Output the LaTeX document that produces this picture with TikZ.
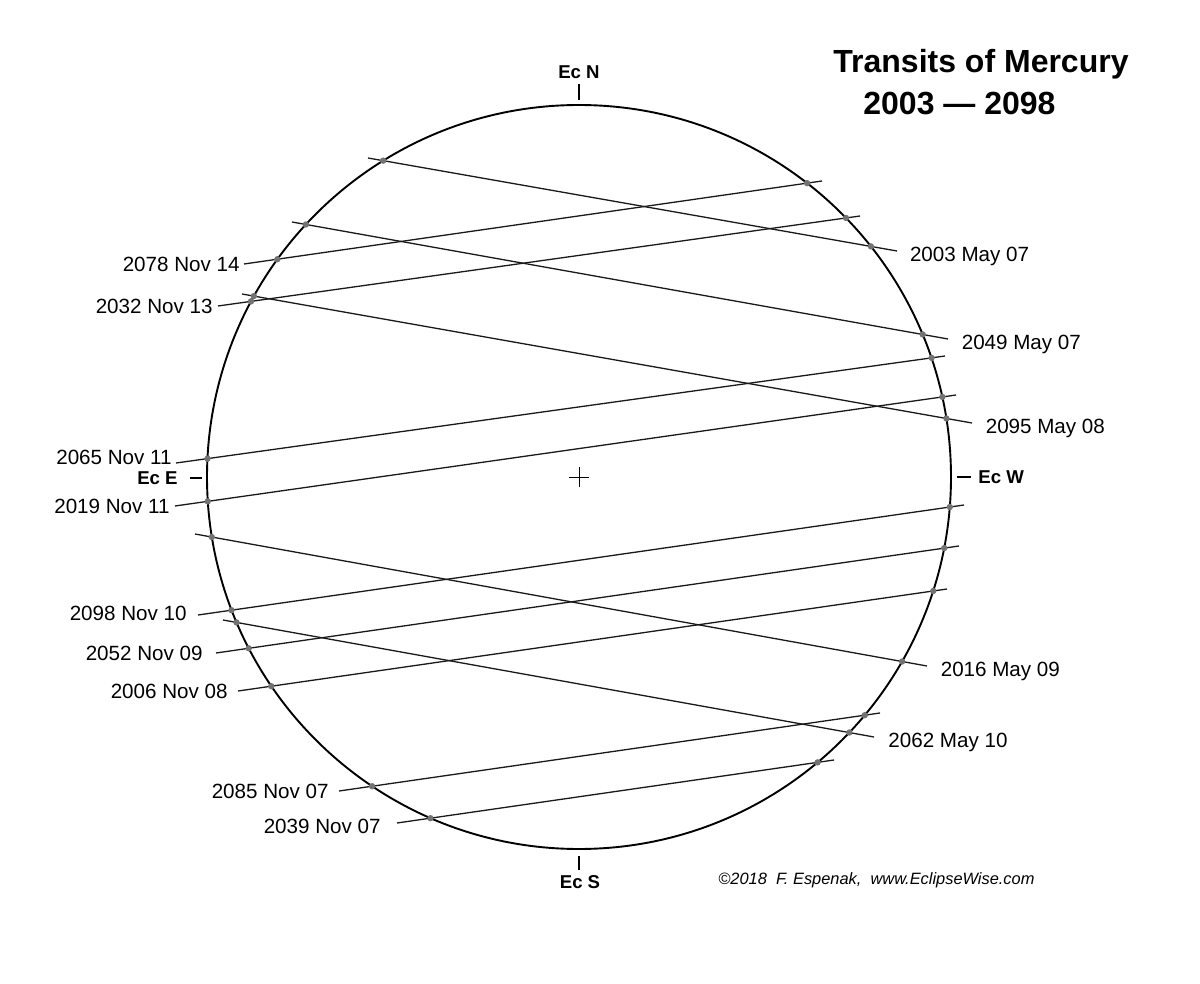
\documentclass[tikz,border=0pt]{standalone}
\usepackage{fontspec}
\setmainfont{Liberation Sans}
\usetikzlibrary{positioning,intersections}

\begin{document}
\begin{tikzpicture}[
    x=0.5pt, y=-0.5pt,
    limb/.style={draw=black, line width=0.95pt},
    chord/.style={draw=black!90, line width=0.65pt},
    contact/.style={fill=black!55},
    tickmark/.style={draw=black, line width=0.6pt},
    date/.style={font=\fontsize{10.3}{12}\selectfont, inner sep=0pt},
    rdate/.style={date, yshift=-2.6pt},
    axis/.style={font=\fontsize{9.3}{11}\selectfont\bfseries, inner sep=0pt},
    heading/.style={font=\fontsize{16}{19}\selectfont\bfseries, inner sep=0pt, anchor=west},
    credit/.style={font=\fontsize{8.2}{10}\selectfont\itshape, inner sep=0pt, anchor=west},
]
  \useasboundingbox (0,0) rectangle (1200,984);

  \coordinate (sun) at (579,477);
  \path[limb, name path=disk] (sun) circle[radius=372];
  \draw[line width=0.5pt] (sun) +(-10,0) -- +(10,0) (sun) +(0,-10) -- +(0,10);

  % ecliptic directions
  \node[axis] (ecn) at (579,72) {Ec N};
  \node[axis] (ecs) at (580,882) {Ec S};
  \node[axis, anchor=east] (ece) at (178,478) {Ec E};
  \node[axis, anchor=west] (ecw) at (978,477) {Ec W};
  \draw[tickmark] (sun) ++(0,-393) -- ++(0,16);
  \draw[tickmark] (sun) ++(0,379) -- ++(0,14);
  \draw[tickmark] (sun) ++(-389,1) -- ++(12,0);
  \draw[tickmark] (sun) ++(378,0) -- ++(14,0);

  % May transits (descending node), dates on the right
  \coordinate (t03a) at (368,158); \coordinate (t03b) at (897,251);
  \coordinate (t49a) at (292,222); \coordinate (t49b) at (948,339);
  \coordinate (t95a) at (242,294); \coordinate (t95b) at (972,423);
  \coordinate (t16a) at (195,534); \coordinate (t16b) at (927,666);
  \coordinate (t62a) at (223,620); \coordinate (t62b) at (874,737);

  \draw[chord, name path=t03] (t03a) -- (t03b);
  \draw[chord, name path=t49] (t49a) -- (t49b);
  \draw[chord, name path=t95] (t95a) -- (t95b);
  \draw[chord, name path=t16] (t16a) -- (t16b);
  \draw[chord, name path=t62] (t62a) -- (t62b);

  \node[rdate, right=6.3pt of t03b] (d03) {2003 May 07};
  \node[rdate, right=6.7pt of t49b] (d49) {2049 May 07};
  \node[rdate, right=6.7pt of t95b] (d95) {2095 May 08};
  \node[rdate, right=6.7pt of t16b] (d16) {2016 May 09};
  \node[rdate, right=7pt of t62b] (d62) {2062 May 10};

  % November transits (ascending node), dates on the left
  \coordinate (t78a) at (244,264); \coordinate (t78b) at (822,181);
  \coordinate (t32a) at (218,306); \coordinate (t32b) at (860,216);
  \coordinate (t65a) at (176,463); \coordinate (t65b) at (945,356);
  \coordinate (t19a) at (175,506); \coordinate (t19b) at (956,395);
  \coordinate (t98a) at (198,615); \coordinate (t98b) at (964,505);
  \coordinate (t52a) at (216,653); \coordinate (t52b) at (959,546);
  \coordinate (t06a) at (238,691); \coordinate (t06b) at (947,589);
  \coordinate (t85a) at (339,791); \coordinate (t85b) at (880,713);
  \coordinate (t39a) at (397,823); \coordinate (t39b) at (834,760);

  \draw[chord, name path=t78] (t78a) -- (t78b);
  \draw[chord, name path=t32] (t32a) -- (t32b);
  \draw[chord, name path=t65] (t65a) -- (t65b);
  \draw[chord, name path=t19] (t19a) -- (t19b);
  \draw[chord, name path=t98] (t98a) -- (t98b);
  \draw[chord, name path=t52] (t52a) -- (t52b);
  \draw[chord, name path=t06] (t06a) -- (t06b);
  \draw[chord, name path=t85] (t85a) -- (t85b);
  \draw[chord, name path=t39] (t39a) -- (t39b);

  \node[date, left=2pt of t78a] (d78) {2078 Nov 14};
  \node[date, left=2.5pt of t32a] (d32) {2032 Nov 13};
  \node[date, left=2pt of t65a, yshift=3pt] (d65) {2065 Nov 11};
  \node[date, left=2.5pt of t19a] (d19) {2019 Nov 11};
  \node[date, left=5.5pt of t98a, yshift=1pt] (d98) {2098 Nov 10};
  \node[date, left=6.5pt of t52a] (d52) {2052 Nov 09};
  \node[date, left=5pt of t06a] (d06) {2006 Nov 08};
  \node[date, left=5pt of t85a] (d85) {2085 Nov 07};
  \node[date, left=8pt of t39a, yshift=-1.5pt] (d39) {2039 Nov 07};

  % ingress / egress contacts
  \foreach \t in {t03,t49,t95,t16,t62,t78,t32,t65,t19,t98,t52,t06,t85,t39}
    \fill[contact, name intersections={of=disk and \t, name=hit}]
      (hit-1) circle[radius=3.2] (hit-2) circle[radius=3.2];

  \node[heading] (ttl) at (833,64) {Transits of Mercury};
  \node[heading] (yrs) at (863,104) {2003 --- 2098};
  \node[credit] (cpy) at (718,880) {©2018\ \ F.\ Espenak,\ \ www.EclipseWise.com};
\end{tikzpicture}
\end{document}
